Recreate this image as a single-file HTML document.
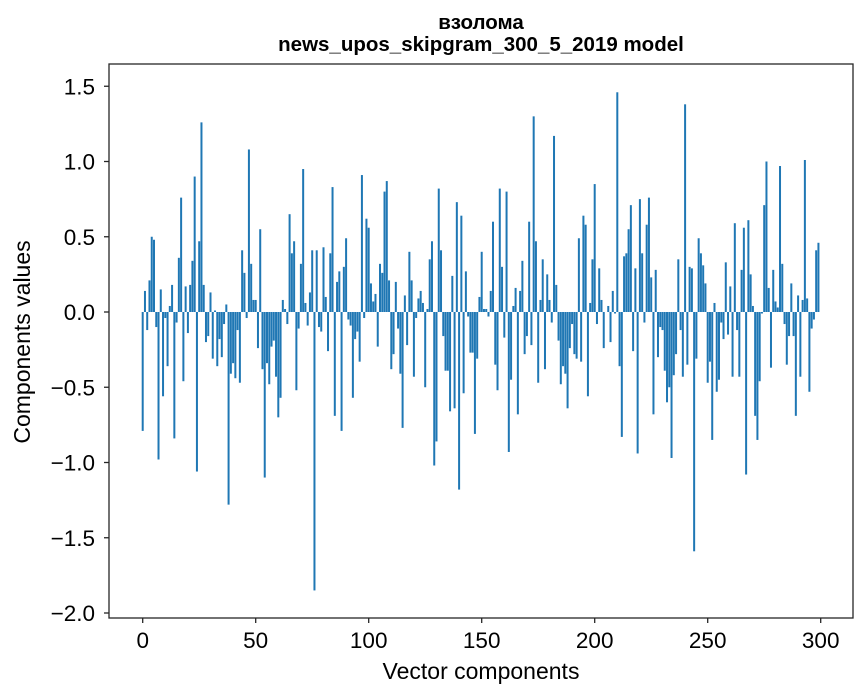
<!DOCTYPE html>
<html><head><meta charset="utf-8"><style>
html,body{margin:0;padding:0;background:#fff;}
svg{display:block;font-family:"Liberation Sans","DejaVu Sans",sans-serif;}
</style></head><body>
<svg id="chart" width="867" height="696" xmlns="http://www.w3.org/2000/svg">
<text x="481" y="29" text-anchor="middle" font-size="20.5" font-weight="bold">взолома</text>
<text x="481" y="51" text-anchor="middle" font-size="20.5" font-weight="bold">news_upos_skipgram_300_5_2019 model</text>
<g id="bars"></g>
<rect x="109" y="64" width="744" height="554" fill="none" stroke="#262626" stroke-width="1.3"/>
<g id="xticks"></g>
<g id="yticks"></g>
<text x="481" y="679" text-anchor="middle" font-size="23">Vector components</text>
<text transform="translate(30,342) rotate(-90)" text-anchor="middle" font-size="23">Components values</text>
</svg>
<script>
const values = [
-0.79,0.14,-0.12,0.21,0.50,0.48,-0.10,-0.98,0.15,-0.56,-0.04,-0.36,0.04,0.18,-0.84,-0.07,0.36,0.76,-0.46,0.17,
-0.14,0.18,0.34,0.90,-1.06,0.47,1.26,0.18,-0.20,-0.16,0.13,-0.31,0.01,-0.36,-0.18,-0.30,-0.08,0.05,-1.28,-0.41,
-0.34,-0.44,-0.12,-0.47,0.41,0.26,-0.04,1.08,0.32,0.08,0.08,-0.24,0.55,-0.38,-1.10,-0.34,-0.48,-0.23,-0.19,-0.43,
-0.70,-0.57,0.08,0.02,-0.08,0.65,0.39,0.47,-0.52,-0.11,0.32,0.95,0.06,-0.09,0.13,0.41,-1.85,0.41,-0.10,-0.13,
0.43,0.10,-0.26,0.39,0.83,-0.69,0.20,0.27,-0.79,0.30,0.49,-0.05,-0.09,-0.57,-0.18,-0.13,-0.33,0.91,-0.04,0.62,
0.56,0.19,0.07,0.12,-0.23,0.32,0.26,0.80,0.87,0.21,-0.38,-0.28,0.20,-0.11,-0.41,-0.77,0.11,-0.22,0.40,0.21,
-0.43,-0.04,0.09,0.14,0.06,-0.50,0.02,0.35,0.47,-1.02,-0.86,0.82,0.41,-0.16,-0.39,-0.39,-0.66,0.24,-0.64,0.73,
-1.18,0.64,-0.54,0.27,-0.03,-0.27,-0.27,-0.81,-0.31,0.10,0.40,0.02,0.02,-0.03,0.14,0.60,-0.35,-0.52,0.82,0.30,
-0.17,0.80,-0.93,-0.45,0.04,0.16,-0.68,0.14,0.34,-0.28,-0.16,0.60,-0.22,1.30,0.47,-0.47,0.08,0.35,-0.38,0.25,
0.08,-0.07,1.17,0.18,-0.19,-0.48,-0.36,-0.41,-0.64,-0.24,-0.08,-0.28,-0.31,0.49,-0.33,0.64,0.58,-0.56,0.06,0.35,
0.85,-0.08,0.29,0.08,-0.24,0.0,0.04,-0.20,0.14,-0.01,1.46,-0.36,-0.83,0.37,0.39,0.55,0.71,-0.26,0.29,-0.94,
0.75,0.39,-0.07,0.58,0.76,0.23,-0.68,0.28,-0.30,-0.10,-0.12,-0.39,-0.60,-0.50,-0.97,-0.42,-0.28,0.35,-0.12,-0.43,
1.38,-0.35,0.30,0.29,-1.59,-0.31,0.49,0.39,0.31,0.19,-0.47,-0.33,-0.85,0.06,-0.53,-0.45,-0.07,-0.18,0.33,-0.15,
0.17,-0.43,0.59,-0.12,-0.43,0.28,0.56,-1.08,0.61,0.25,0.04,-0.69,-0.85,-0.46,-0.01,0.71,1.00,0.16,-0.37,0.28,
0.07,0.03,0.97,0.32,-0.08,-0.35,-0.16,0.19,-0.16,-0.69,0.11,-0.43,0.08,1.01,0.09,-0.53,-0.11,-0.05,0.41,0.46
];
const xTicks = [0,50,100,150,200,250,300];
const yTicks = [1.5,1.0,0.5,0.0,-0.5,-1.0,-1.5,-2.0];
const yTickLabels = ["1.5","1.0","0.5","0.0","\u22120.5","\u22121.0","\u22121.5","\u22122.0"];

const NS = "http://www.w3.org/2000/svg";
function xs(v){ return 142.7 + v * 2.26; }
function ys(v){ return 312 - v * 150.5; }

const gb = document.getElementById('bars');
values.forEach((v,i)=>{
  const r = document.createElementNS(NS,'rect');
  const w = 2.0;
  const y0 = ys(Math.max(v,0)), y1 = ys(Math.min(v,0));
  r.setAttribute('x', xs(i) - w/2);
  r.setAttribute('y', y0);
  r.setAttribute('width', w);
  r.setAttribute('height', Math.max(y1-y0, 0.01));
  r.setAttribute('fill', '#1f77b4');
  
  
  gb.appendChild(r);
});

const gx = document.getElementById('xticks');
xTicks.forEach(t=>{
  const l = document.createElementNS(NS,'line');
  l.setAttribute('x1', xs(t)); l.setAttribute('x2', xs(t));
  l.setAttribute('y1', 618); l.setAttribute('y2', 623);
  l.setAttribute('stroke', '#262626'); l.setAttribute('stroke-width', '1.3');
  
  
  gx.appendChild(l);
  const tx = document.createElementNS(NS,'text');
  tx.setAttribute('x', xs(t)); tx.setAttribute('y', 648);
  tx.setAttribute('text-anchor', 'middle'); tx.setAttribute('font-size', '22.5');
  tx.textContent = String(t);
  
  
  gx.appendChild(tx);
});

const gy = document.getElementById('yticks');
yTicks.forEach((t,i)=>{
  const l = document.createElementNS(NS,'line');
  l.setAttribute('x1', 104); l.setAttribute('x2', 109);
  l.setAttribute('y1', ys(t)); l.setAttribute('y2', ys(t));
  l.setAttribute('stroke', '#262626'); l.setAttribute('stroke-width', '1.3');
  
  
  gy.appendChild(l);
  const tx = document.createElementNS(NS,'text');
  tx.setAttribute('x', 95); tx.setAttribute('y', ys(t) + 8);
  tx.setAttribute('text-anchor', 'end'); tx.setAttribute('font-size', '22.5');
  tx.textContent = yTickLabels[i];
  
  
  gy.appendChild(tx);
});
</script>
</body></html>
